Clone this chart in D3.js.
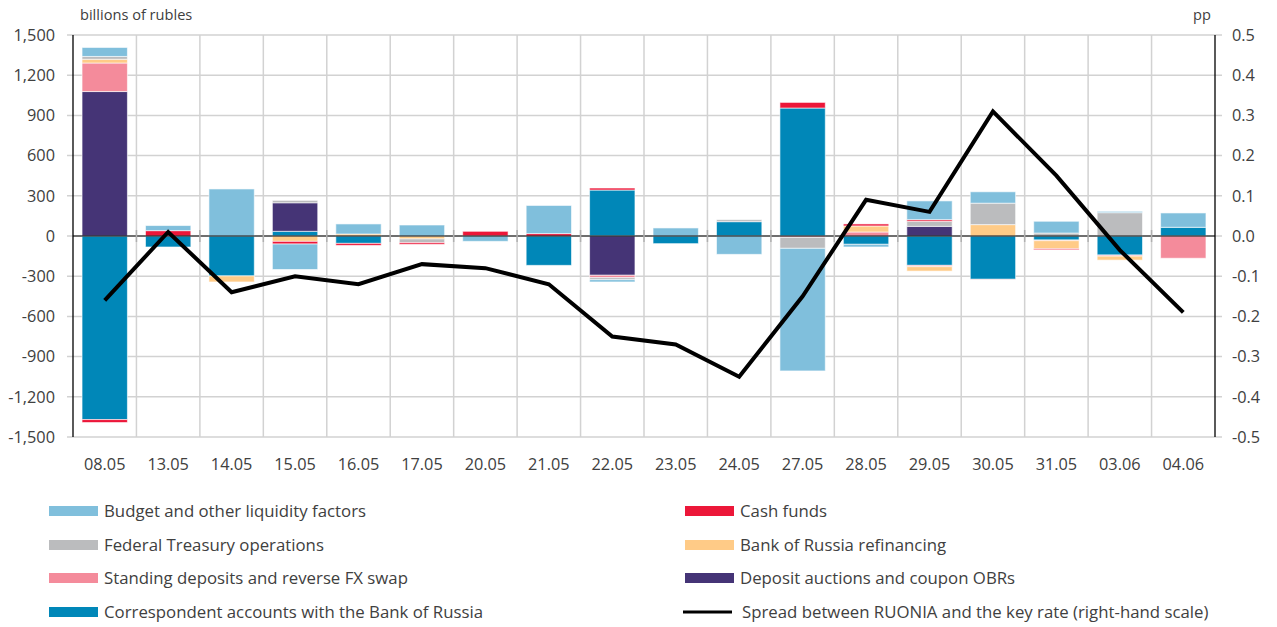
<!DOCTYPE html>
<html>
<head>
<meta charset="utf-8">
<script src="https://cdn.jsdelivr.net/npm/d3@7"></script>
<style>
  html, body { margin: 0; padding: 0; background: #fff; }
  svg text { font-family: "Open Sans", "Noto Sans", sans-serif; fill: #404040; }
</style>
</head>
<body>
<svg id="chart" width="1277" height="627"></svg>
<script>
// ---- data ----
const dates = ["08.05","13.05","14.05","15.05","16.05","17.05","20.05","21.05","22.05","23.05","24.05","27.05","28.05","29.05","30.05","31.05","03.06","04.06"];

// stack order (closest to zero first)
const correspondent = [-1370, -82, -298, 35, -55, 0, 0, -219, 343, -57, 107, 955, -62, -219, -323, -30, -142, 65];
const depositAuctions = [1078, 0, 0, 213, 0, 0, 0, 0, -293, 0, 0, 0, 0, 72, 0, 0, 0, 0];
const standingDeposits = [213, 0, 0, 0, 0, 0, 0, 0, -18, 0, 0, -10, 30, -10, -3, -5, -8, -166];
const refinancing = [28, 0, -45, -40, 15, -22, 0, 0, 0, 0, 0, 0, 45, -33, 85, -60, -30, 0];
const federalTreasury = [21, 0, 0, 18, 0, -28, 0, 0, -15, 0, 15, -82, 0, 38, 160, 22, 174, 0];
const cashFunds = [-22, 40, 0, -20, -15, -12, 35, 18, 15, 0, 0, 42, 15, 12, 0, -8, 0, 0];
const budget = [67, 38, 351, -190, 75, 82, -40, 210, -17, 60, -137, -915, -20, 140, 85, 88, 10, 107];

const spread = [-0.16, 0.01, -0.14, -0.10, -0.12, -0.07, -0.08, -0.12, -0.25, -0.27, -0.35, -0.15, 0.09, 0.06, 0.31, 0.15, -0.035, -0.19];

const leftTicks = [1500, 1200, 900, 600, 300, 0, -300, -600, -900, -1200, -1500];
const rightTicks = [0.5, 0.4, 0.3, 0.2, 0.1, 0, -0.1, -0.2, -0.3, -0.4, -0.5];

const seriesNames = {
  correspondent: "Correspondent accounts with the Bank of Russia",
  depositAuctions: "Deposit auctions and coupon OBRs",
  standingDeposits: "Standing deposits and reverse FX swap",
  refinancing: "Bank of Russia refinancing",
  federalTreasury: "Federal Treasury operations",
  cashFunds: "Cash funds",
  budget: "Budget and other liquidity factors"
};
const seriesColors = {
  correspondent: "#0087b8",
  depositAuctions: "#453476",
  standingDeposits: "#f48b9b",
  refinancing: "#ffcb87",
  federalTreasury: "#bbbcbe",
  cashFunds: "#ec1739",
  budget: "#80bfdc"
};
const seriesData = { correspondent, depositAuctions, standingDeposits, refinancing, federalTreasury, cashFunds, budget };
const stackKeys = ["correspondent","depositAuctions","standingDeposits","refinancing","federalTreasury","cashFunds","budget"];

// ---- layout ----
const svg = d3.select("#chart");
const L = 73, R = 1215, T = 35, B = 437;

const x = d3.scaleBand().domain(dates).range([L, R]).paddingInner(0.285).paddingOuter(0.1425);
const y = d3.scaleLinear().domain([-1500, 1500]).range([B, T]);
const y2 = d3.scaleLinear().domain([-0.5, 0.5]).range([B, T]);

const table = dates.map((d, i) => {
  const row = { date: d };
  stackKeys.forEach(k => row[k] = seriesData[k][i]);
  return row;
});
const stacked = d3.stack().keys(stackKeys).offset(d3.stackOffsetDiverging)(table);

const fmtLeft = v => d3.format(",")(v).replace("\u2212", "-");
const fmtRight = v => d3.format(".1f")(v).replace("\u2212", "-");

// horizontal gridlines
svg.append("g").selectAll("line").data(leftTicks).join("line")
  .attr("x1", L - 6).attr("x2", R + 7)
  .attr("y1", d => y(d)).attr("y2", d => y(d))
  .attr("stroke", "#d2d2d2").attr("stroke-width", 1.5);

// vertical gridlines at band boundaries
const step = x.step();
const bounds = d3.range(1, dates.length).map(i => L + i * step);
svg.append("g").selectAll("line").data(bounds).join("line")
  .attr("x1", d => d).attr("x2", d => d)
  .attr("y1", T).attr("y2", B)
  .attr("stroke", "#d2d2d2").attr("stroke-width", 1.5);

// bars
svg.append("g").selectAll("g").data(stacked).join("g")
  .attr("fill", d => seriesColors[d.key])
  .selectAll("rect").data(d => d.filter(s => s[1] - s[0] !== 0)).join("rect")
  .attr("x", d => x(d.data.date))
  .attr("width", x.bandwidth())
  .attr("y", d => y(Math.max(d[0], d[1])))
  .attr("height", d => Math.abs(y(d[0]) - y(d[1])))
  .attr("stroke", "#ffffff").attr("stroke-width", 1).attr("stroke-opacity", 0.6);

// zero line + small ticks
svg.append("line").attr("x1", L).attr("x2", R).attr("y1", y(0)).attr("y2", y(0))
  .attr("stroke", "#000").attr("stroke-width", 1.2);
svg.append("g").selectAll("line").data(bounds).join("line")
  .attr("x1", d => d).attr("x2", d => d)
  .attr("y1", y(0) - 6).attr("y2", y(0) + 6)
  .attr("stroke", "#b0b0b0").attr("stroke-width", 1.5);

// axes lines
svg.append("line").attr("x1", L).attr("x2", L).attr("y1", T).attr("y2", B).attr("stroke", "#000").attr("stroke-width", 1.3);
svg.append("line").attr("x1", R).attr("x2", R).attr("y1", T).attr("y2", B).attr("stroke", "#000").attr("stroke-width", 1.3);

// left axis labels
svg.append("g").selectAll("text").data(leftTicks).join("text")
  .attr("x", 55).attr("y", d => y(d)).attr("dy", "0.35em")
  .attr("text-anchor", "end").attr("font-size", 16.3)
  .text(fmtLeft);

// right axis labels
svg.append("g").selectAll("text").data(rightTicks).join("text")
  .attr("x", 1232).attr("y", d => y2(d)).attr("dy", "0.35em")
  .attr("text-anchor", "start").attr("font-size", 16.3)
  .text(fmtRight);

// x labels
svg.append("g").selectAll("text").data(dates).join("text")
  .attr("x", d => x(d) + x.bandwidth() / 2).attr("y", 464)
  .attr("dy", "0.35em").attr("text-anchor", "middle").attr("font-size", 16.3)
  .text(d => d);

// unit labels
svg.append("text").attr("x", 80).attr("y", 20).attr("font-size", 14.6).text("billions of rubles");
svg.append("text").attr("x", 1193).attr("y", 20).attr("font-size", 14.6).text("pp");

// spread line
const line = d3.line().x((d, i) => x(dates[i]) + x.bandwidth() / 2).y(d => y2(d));
svg.append("path").datum(spread).attr("d", line)
  .attr("fill", "none").attr("stroke", "#000").attr("stroke-width", 4)
  .attr("stroke-linejoin", "miter");

// legend
const legendItems = [
  { key: "budget", col: 0, row: 0 },
  { key: "cashFunds", col: 1, row: 0 },
  { key: "federalTreasury", col: 0, row: 1 },
  { key: "refinancing", col: 1, row: 1 },
  { key: "standingDeposits", col: 0, row: 2 },
  { key: "depositAuctions", col: 1, row: 2 },
  { key: "correspondent", col: 0, row: 3 },
  { key: "spread", col: 1, row: 3 }
];
const colX = [49, 685];
const rowY = [511, 545, 578, 612];
const lg = svg.append("g");
legendItems.forEach(it => {
  const gx = colX[it.col], gy = rowY[it.row];
  if (it.key === "spread") {
    lg.append("line").attr("x1", gx - 2).attr("x2", gx + 47).attr("y1", gy).attr("y2", gy)
      .attr("stroke", "#000").attr("stroke-width", 3);
    lg.append("text").attr("x", gx + 57).attr("y", gy).attr("dy", "0.35em").attr("font-size", 16.8)
      .text("Spread between RUONIA and the key rate (right-hand scale)");
  } else {
    lg.append("rect").attr("x", gx).attr("y", gy - 5).attr("width", 49).attr("height", 10)
      .attr("fill", seriesColors[it.key]);
    lg.append("text").attr("x", gx + 55).attr("y", gy).attr("dy", "0.35em").attr("font-size", 16.8)
      .text(seriesNames[it.key]);
  }
});
</script>
</body>
</html>
